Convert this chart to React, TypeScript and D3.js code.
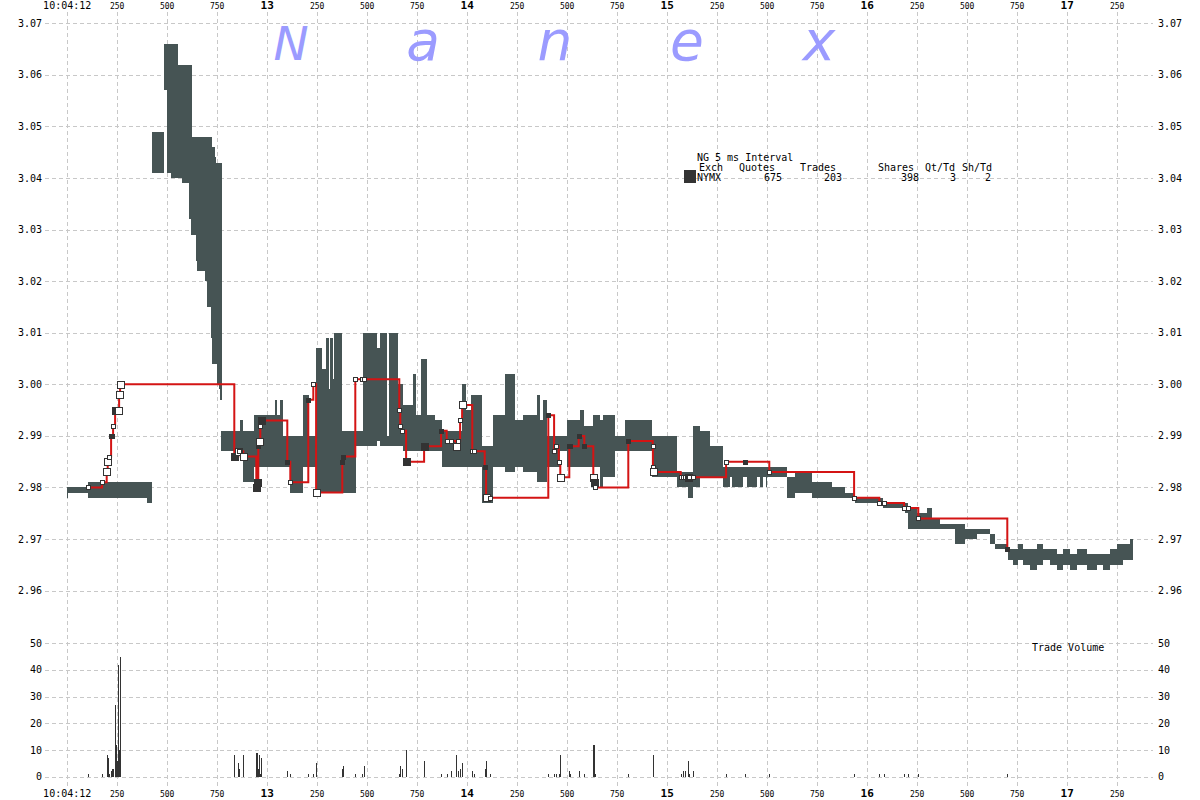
import React, { useRef, useEffect } from 'react';
import * as d3 from 'd3';

// time in ms after 10:04:12.000, prices in dollars
const timeTicks = [0, 250, 500, 750, 1000, 1250, 1500, 1750, 2000, 2250, 2500, 2750, 3000, 3250, 3500, 3750, 4000, 4250, 4500, 4750, 5000, 5250];
const timeLabels = ['10:04:12', '250', '500', '750', '13', '250', '500', '750', '14', '250', '500', '750', '15', '250', '500', '750', '16', '250', '500', '750', '17', '250'];
const priceTicks = [2.96, 2.97, 2.98, 2.99, 3.0, 3.01, 3.02, 3.03, 3.04, 3.05, 3.06, 3.07];
const volumeTicks = [0, 10, 20, 30, 40, 50];

// [start ms, end ms, low, high] of the quote spread
const quoteBands: [number, number, number, number][] = [
    [0, 8, 2.978, 2.980], [8, 108, 2.979, 2.980], [108, 400, 2.978, 2.981], [400, 425, 2.977, 2.981],
    [426, 487, 3.041, 3.049],
    [487, 500, 3.057, 3.066], [500, 521, 3.041, 3.066], [521, 556, 3.040, 3.066], [556, 576, 3.040, 3.062],
    [576, 611, 3.039, 3.062], [611, 621, 3.032, 3.062], [621, 626, 3.029, 3.062], [626, 646, 3.029, 3.048],
    [646, 651, 3.024, 3.048], [651, 691, 3.022, 3.048], [691, 701, 3.020, 3.048], [701, 721, 3.015, 3.048],
    [721, 726, 3.009, 3.048], [726, 741, 3.004, 3.046], [741, 746, 3.004, 3.044], [746, 750, 3.004, 3.043],
    [750, 761, 3.000, 3.043], [761, 766, 2.999, 3.043], [766, 776, 2.997, 3.043],
    [772, 867, 2.987, 2.991], [867, 880, 2.987, 2.993], [880, 937, 2.981, 2.991], [937, 1042, 2.984, 2.994],
    [1042, 1050, 2.984, 2.997], [1050, 1065, 2.984, 2.994], [1065, 1080, 2.984, 2.997], [1080, 1117, 2.984, 2.990],
    [1117, 1183, 2.979, 2.990], [1183, 1210, 2.984, 2.998], [1210, 1247, 2.984, 2.990],
    [1247, 1275, 2.979, 3.007], [1275, 1297, 2.979, 3.003], [1297, 1312, 2.979, 3.009], [1312, 1318, 2.979, 2.999],
    [1318, 1333, 2.979, 3.009], [1333, 1338, 2.979, 3.001], [1338, 1375, 2.979, 3.010], [1375, 1447, 2.979, 2.991],
    [1447, 1483, 2.988, 2.991],
    [1483, 1553, 2.988, 3.010], [1553, 1567, 2.989, 3.007], [1567, 1603, 2.988, 3.010], [1603, 1613, 2.988, 2.990],
    [1613, 1658, 2.988, 3.010], [1658, 1683, 2.988, 3.000], [1683, 1733, 2.987, 2.996], [1733, 1747, 2.987, 3.002],
    [1747, 1770, 2.987, 2.994], [1770, 1800, 2.987, 3.005], [1800, 1842, 2.987, 2.994], [1842, 1875, 2.987, 2.993],
    [1875, 1975, 2.984, 2.991], [1975, 1997, 2.984, 3.000], [1997, 2020, 2.984, 2.995], [2020, 2075, 2.984, 2.998],
    [2075, 2133, 2.977, 2.988], [2133, 2192, 2.984, 2.994], [2192, 2242, 2.983, 3.002], [2242, 2283, 2.984, 2.993],
    [2283, 2350, 2.983, 2.994], [2350, 2365, 2.981, 2.998], [2365, 2383, 2.981, 2.993], [2383, 2400, 2.981, 2.997],
    [2400, 2467, 2.984, 2.990], [2467, 2500, 2.987, 2.990], [2500, 2567, 2.984, 2.993], [2567, 2587, 2.984, 2.995],
    [2587, 2633, 2.984, 2.992], [2633, 2667, 2.984, 2.994], [2667, 2683, 2.980, 2.993], [2683, 2742, 2.982, 2.994],
    [2742, 2792, 2.987, 2.990], [2792, 2925, 2.987, 2.993], [2925, 3050, 2.982, 2.990], [3050, 3108, 2.980, 2.983],
    [3108, 3130, 2.978, 2.983], [3130, 3167, 2.980, 2.992], [3167, 3217, 2.982, 2.991], [3217, 3280, 2.982, 2.988],
    [3280, 3317, 2.980, 2.984], [3317, 3328, 2.982, 2.984], [3328, 3383, 2.980, 2.984], [3383, 3400, 2.982, 2.984],
    [3400, 3450, 2.980, 2.984], [3450, 3467, 2.982, 2.984], [3467, 3483, 2.980, 2.984], [3483, 3495, 2.982, 2.984],
    [3495, 3500, 2.980, 2.984], [3500, 3600, 2.982, 2.984], [3600, 3642, 2.978, 2.982], [3642, 3725, 2.979, 2.983],
    [3725, 3825, 2.978, 2.981], [3825, 3892, 2.978, 2.980], [3892, 3942, 2.978, 2.979], [3942, 4083, 2.977, 2.978],
    [4083, 4192, 2.976, 2.977], [4192, 4208, 2.975, 2.977], [4208, 4250, 2.972, 2.976], [4250, 4300, 2.972, 2.975],
    [4300, 4325, 2.972, 2.976], [4325, 4367, 2.972, 2.974], [4367, 4442, 2.972, 2.973], [4442, 4492, 2.969, 2.973],
    [4492, 4550, 2.970, 2.972], [4550, 4617, 2.971, 2.972], [4617, 4642, 2.969, 2.971], [4642, 4708, 2.968, 2.969],
    [4708, 4733, 2.966, 2.968], [4733, 4758, 2.965, 2.968], [4758, 4783, 2.966, 2.969], [4783, 4817, 2.965, 2.968],
    [4817, 4850, 2.964, 2.968], [4850, 4883, 2.965, 2.969], [4883, 4917, 2.966, 2.968], [4917, 4950, 2.965, 2.968],
    [4950, 4983, 2.964, 2.967], [4983, 5017, 2.965, 2.968], [5017, 5050, 2.964, 2.967], [5050, 5100, 2.965, 2.968],
    [5100, 5150, 2.964, 2.967], [5150, 5183, 2.965, 2.967], [5183, 5217, 2.964, 2.967], [5217, 5250, 2.965, 2.968],
    [5250, 5283, 2.965, 2.969], [5283, 5317, 2.966, 2.969], [5317, 5333, 2.966, 2.970],
];

// [ms, price, size, side] side b = at bid (filled), a = at ask (open)
const trades: [number, number, number, string][] = [
    [105, 2.980, 1, 'a'], [177, 2.981, 1, 'a'], [200, 2.983, 8, 'a'], [205, 2.985, 7, 'a'], [210, 2.986, 1, 'a'],
    [222, 2.990, 2, 'b'], [227, 2.990, 3, 'b'], [232, 2.992, 3, 'a'], [242, 2.995, 27, 'b'], [247, 2.995, 12, 'a'],
    [252, 2.995, 6, 'a'], [257, 2.995, 42, 'a'], [262, 2.998, 10, 'a'], [267, 3.000, 45, 'a'],
    [838, 2.986, 8, 'b'], [858, 2.987, 5, 'a'], [863, 2.987, 3, 'a'], [883, 2.986, 8, 'a'],
    [948, 2.980, 9, 'b'], [953, 2.981, 9, 'b'], [958, 2.988, 3, 'b'], [963, 2.989, 8, 'a'], [968, 2.992, 1, 'a'],
    [973, 2.993, 7, 'b'], [1103, 2.985, 2, 'b'], [1118, 2.981, 1, 'a'], [1208, 2.997, 1, 'b'], [1233, 3.000, 1, 'a'],
    [1247, 2.979, 5, 'a'], [1378, 2.985, 3, 'b'], [1383, 2.986, 4, 'b'], [1443, 3.001, 1, 'a'], [1475, 3.001, 1, 'a'],
    [1488, 3.001, 4, 'a'], [1663, 2.995, 1, 'a'], [1668, 2.992, 4, 'a'], [1675, 2.991, 3, 'a'], [1697, 2.985, 10, 'b'],
    [1787, 2.988, 6, 'b'], [1872, 2.991, 1, 'b'], [1900, 2.989, 1, 'a'], [1922, 2.989, 2, 'a'], [1947, 2.988, 8, 'a'],
    [1958, 2.989, 2, 'a'], [1967, 2.993, 3, 'a'], [1977, 2.996, 5, 'a'], [2028, 2.987, 2, 'a'], [2037, 2.987, 1, 'a'],
    [2090, 2.984, 3, 'b'], [2097, 2.978, 6, 'a'], [2117, 2.978, 1, 'a'], [2408, 2.994, 1, 'b'], [2437, 2.987, 1, 'a'],
    [2445, 2.988, 1, 'a'], [2460, 2.985, 1, 'a'], [2468, 2.982, 8, 'a'], [2513, 2.988, 2, 'b'], [2518, 2.988, 1, 'b'],
    [2560, 2.990, 2, 'b'], [2588, 2.988, 1, 'b'], [2633, 2.982, 12, 'a'], [2638, 2.981, 12, 'b'], [2642, 2.980, 1, 'a'],
    [2808, 2.989, 1, 'b'], [2930, 2.988, 1, 'a'], [2931, 2.984, 1, 'a'], [2933, 2.983, 8, 'a'], [3070, 2.982, 1, 'a'],
    [3082, 2.982, 2, 'a'], [3090, 2.982, 2, 'a'], [3108, 2.982, 6, 'b'], [3112, 2.982, 1, 'a'], [3130, 2.982, 2, 'a'],
    [3297, 2.985, 1, 'a'], [3392, 2.985, 1, 'b'], [3513, 2.983, 1, 'a'], [3937, 2.978, 1, 'a'], [4063, 2.977, 1, 'a'],
    [4087, 2.977, 1, 'a'], [4187, 2.976, 1, 'a'], [4208, 2.976, 1, 'a'], [4258, 2.974, 1, 'a'], [4703, 2.968, 1, 'b'],
];

const watermark = ['N', 'a', 'n', 'e', 'x'];
const legendTitle = 'NG 5 ms Interval';
const legendHeaders = ['Exch', 'Quotes', 'Trades', 'Shares', 'Qt/Td', 'Sh/Td'];
const legendValues = ['NYMX', '675', '203', '398', '3', '2'];

const W = 1200;
const H = 800;
const MONO = '"DejaVu Sans Mono", monospace';

export default function App() {
    const svgRef = useRef<SVGSVGElement>(null);

    useEffect(() => {
        if (!svgRef.current) return;
        const svg = d3.select(svgRef.current);
        svg.selectAll('*').remove();

        const x = d3.scaleLinear().domain([0, 5000]).range([66.7, 1066.7]);
        const y = d3.scaleLinear().domain([2.96, 3.07]).range([590.6, 23.3]);
        const yv = d3.scaleLinear().domain([0, 50]).range([776.7, 643.3]);
        const left = 45, right = 1153;

        svg.append('rect').attr('width', W).attr('height', H).attr('fill', '#ffffff');

        // grid
        const grid = svg.append('g').attr('stroke', '#c8c8c8').attr('stroke-dasharray', '4,3').attr('stroke-width', 1);
        grid.selectAll('.vg').data(timeTicks).enter().append('line')
            .attr('x1', d => Math.round(x(d)) + 0.5).attr('x2', d => Math.round(x(d)) + 0.5)
            .attr('y1', 12).attr('y2', 786);
        grid.selectAll('.pg').data(priceTicks).enter().append('line')
            .attr('x1', left).attr('x2', right)
            .attr('y1', d => Math.round(y(d)) + 0.5).attr('y2', d => Math.round(y(d)) + 0.5);
        grid.selectAll('.vvg').data(volumeTicks).enter().append('line')
            .attr('x1', left).attr('x2', right)
            .attr('y1', d => Math.round(yv(d)) + 0.5).attr('y2', d => Math.round(yv(d)) + 0.5);

        // watermark
        svg.append('g').selectAll('text').data(watermark).enter().append('text')
            .attr('x', (_, i) => 291 + i * 132)
            .attr('y', 60)
            .attr('text-anchor', 'middle')
            .attr('font-family', '"DejaVu Sans", sans-serif')
            .attr('font-style', 'italic')
            .attr('font-size', (_, i) => (i === 0 ? 47 : 55))
            .attr('fill', '#9b9bff')
            .text(d => d);

        // quote spread bands
        svg.append('g').attr('fill', '#465454').attr('shape-rendering', 'crispEdges')
            .selectAll('rect').data(quoteBands).enter().append('rect')
            .attr('x', d => Math.round(x(d[0])))
            .attr('width', d => Math.max(1, Math.round(x(d[1])) - Math.round(x(d[0]))))
            .attr('y', d => Math.round(y(d[3])))
            .attr('height', d => Math.round(y(d[2])) - Math.round(y(d[3])));

        // trade line
        const line = d3.line<[number, number, number, string]>()
            .x(d => x(d[0])).y(d => y(d[1])).curve(d3.curveStepAfter);
        svg.append('path').datum(trades).attr('d', line)
            .attr('fill', 'none').attr('stroke', '#d41414').attr('stroke-width', 2);

        // trade markers
        svg.append('g').attr('shape-rendering', 'crispEdges').selectAll('rect').data(trades).enter().append('rect')
            .attr('x', d => Math.round(x(d[0]) - (d[2] >= 5 ? 3.5 : 2)) + 0.5)
            .attr('y', d => Math.round(y(d[1]) - (d[2] >= 5 ? 3.5 : 2)) + 0.5)
            .attr('width', d => (d[2] >= 5 ? 7 : 4))
            .attr('height', d => (d[2] >= 5 ? 7 : 4))
            .attr('fill', d => (d[3] === 'b' ? '#333333' : '#ffffff'))
            .attr('stroke', '#333333').attr('stroke-width', 1);

        // volume bars
        svg.append('g').attr('fill', '#333333').attr('shape-rendering', 'crispEdges')
            .selectAll('rect').data(trades).enter().append('rect')
            .attr('x', d => Math.round(x(d[0])))
            .attr('width', 1)
            .attr('y', d => Math.round(yv(d[2])))
            .attr('height', d => Math.round(yv(0)) - Math.round(yv(d[2])));

        // time labels top and bottom
        const tl = svg.append('g').attr('font-family', MONO).attr('fill', '#000').attr('text-anchor', 'middle');
        [9, 797].forEach(base => {
            tl.selectAll(null).data(timeTicks).enter().append('text')
                .attr('x', d => x(d) + 0.5)
                .attr('y', base)
                .attr('font-size', (_, i) => (i === 0 ? 10 : i % 4 === 0 ? 11 : 8))
                .attr('font-weight', (_, i) => (i !== 0 && i % 4 === 0 ? 'bold' : 'normal'))
                .text((_, i) => timeLabels[i]);
        });

        // price and volume labels on both sides
        const yl = svg.append('g').attr('font-family', MONO).attr('font-size', 10).attr('fill', '#000');
        const sideLabels = (ticks: number[], scale: d3.ScaleLinear<number, number>, fmt: (v: number) => string) => {
            yl.selectAll(null).data(ticks).enter().append('text')
                .attr('x', 42).attr('y', d => scale(d)).attr('dy', '0.35em')
                .attr('text-anchor', 'end').text(d => fmt(d));
            yl.selectAll(null).data(ticks).enter().append('text')
                .attr('x', 1158).attr('y', d => scale(d)).attr('dy', '0.35em')
                .attr('text-anchor', 'start').text(d => fmt(d));
        };
        sideLabels(priceTicks, y, d3.format('.2f'));
        sideLabels(volumeTicks, yv, d3.format('d'));

        // legend
        const lg = svg.append('g').attr('font-family', MONO).attr('font-size', 10).attr('fill', '#000');
        lg.append('text').attr('x', 697).attr('y', 161).text(legendTitle);
        const headerX = [699, 739, 800, 878, 925, 962];
        lg.selectAll(null).data(legendHeaders).enter().append('text')
            .attr('x', (_, i) => headerX[i]).attr('y', 171).text(d => d);
        const valueX = [697, 782, 842, 919, 956, 991];
        lg.selectAll(null).data(legendValues).enter().append('text')
            .attr('x', (_, i) => valueX[i]).attr('y', 181)
            .attr('text-anchor', (_, i) => (i === 0 ? 'start' : 'end')).text(d => d);
        lg.append('rect').attr('x', 684).attr('y', 170).attr('width', 12).attr('height', 13).attr('fill', '#333333');

        svg.append('text').attr('x', 1032).attr('y', 651)
            .attr('font-family', MONO).attr('font-size', 10).attr('fill', '#000')
            .text('Trade Volume');
    }, []);

    return (
        <svg ref={svgRef} width={W} height={H} style={{ position: 'absolute', left: 0, top: 0 }} />
    );
}
